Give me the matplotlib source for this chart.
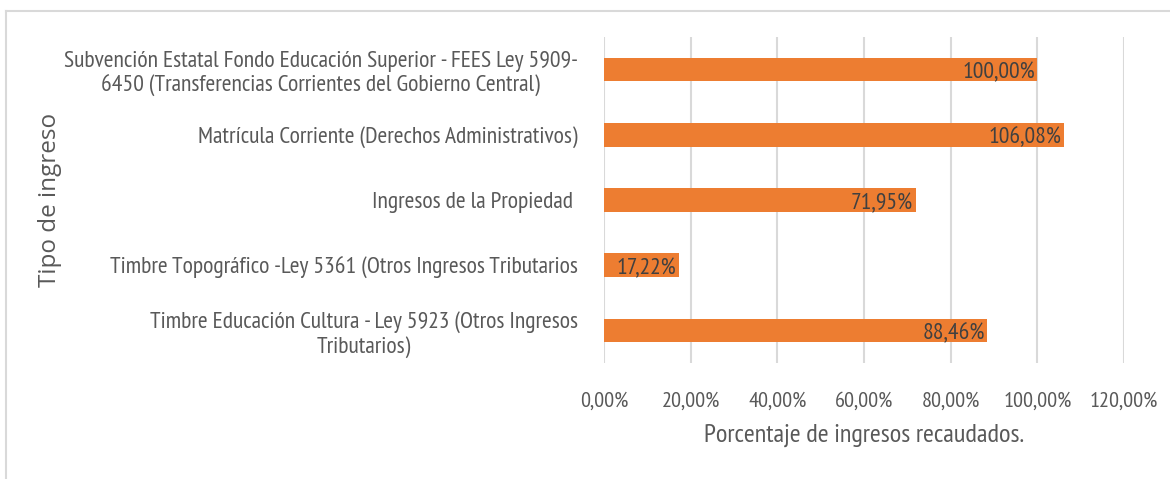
import matplotlib
matplotlib.use("Agg")
import matplotlib.pyplot as plt
from matplotlib.lines import Line2D
from matplotlib.ticker import FuncFormatter

categories = [
    "Subvención Estatal Fondo Educación Superior - FEES Ley 5909-\n6450 (Transferencias Corrientes del Gobierno Central)",
    "Matrícula Corriente (Derechos Administrativos)",
    "Ingresos de la Propiedad ",
    "Timbre Topográfico -Ley 5361 (Otros Ingresos Tributarios",
    "Timbre Educación Cultura - Ley 5923 (Otros Ingresos\nTributarios)",
]
values = [100.00, 106.08, 71.95, 17.22, 88.46]
xticks = [0, 20, 40, 60, 80, 100, 120]

W, H = 1170, 479
fig = plt.figure(figsize=(W / 100, H / 100), dpi=100)
ax = fig.add_axes([604 / W, 1 - 363 / H, (1124 - 604) / W, (363 - 37) / H])

font = ["PT Sans Narrow", "DejaVu Sans"]
txt = "#595959"
orange = "#ED7D31"

ypos = list(range(len(categories)))
ax.barh(ypos, values, height=0.36, color=orange, zorder=3)
ax.set_ylim(len(categories) - 0.5, -0.5)
ax.set_xlim(0, 120)
ax.set_xticks(xticks)
ax.xaxis.set_major_formatter(FuncFormatter(lambda v, p: f"{v:.2f}".replace(".", ",") + "%"))
ax.set_yticks(ypos)
ax.set_yticklabels(categories, family=font, fontsize=17, color=txt, ha="right",
                   multialignment="center", linespacing=1.2)
for lab in ax.get_xticklabels():
    lab.set_family(font)
    lab.set_fontsize(16)
    lab.set_color(txt)
ax.tick_params(axis="both", length=0)
ax.tick_params(axis="y", pad=19)
ax.tick_params(axis="x", pad=21)
ax.grid(axis="x", color="#D9D9D9", linewidth=1.5, zorder=0)
for s in ax.spines.values():
    s.set_visible(False)

for y, v in zip(ypos, values):
    ax.text(v - 0.6, y + 0.05, f"{v:.2f}".replace(".", ",") + "%", ha="right", va="center",
            family=font, fontsize=17, color="#404040", zorder=4)

ax.set_xlabel("Porcentaje de ingresos recaudados.", family=font, fontsize=19, color=txt,
              labelpad=9)
fig.text(50 / W, 1 - 200 / H, "Tipo de ingreso", rotation=90, ha="center", va="center",
         family=["Open Sans", "DejaVu Sans"], fontsize=17.5, color=txt)

fig.add_artist(Line2D([6 / W, 1], [1 - 10.5 / H, 1 - 10.5 / H], transform=fig.transFigure,
                      color="#D9D9D9", linewidth=1.5))
fig.add_artist(Line2D([6 / W, 6 / W], [0, 1 - 10.5 / H], transform=fig.transFigure,
                      color="#D9D9D9", linewidth=1.5))

fig.savefig("out.png", dpi=100, facecolor="white")
